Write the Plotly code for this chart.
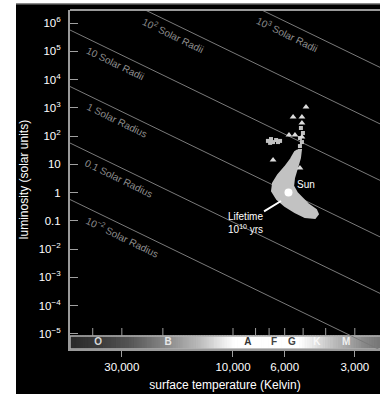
import numpy as np
import plotly.graph_objects as go

# ---------------- data ----------------
# constant-radius reference lines (solar radii)
radius_values = [0.01, 0.1, 1, 10, 100, 1000]
radius_labels = ["10<sup>−2</sup> Solar Radius", "0.1 Solar Radius", "1 Solar Radius",
                 "10 Solar Radii", "10<sup>2</sup> Solar Radii", "10<sup>3</sup> Solar Radii"]
radius_label_temps = [30550, 31800, 32400, 33000, 18600, 6040]

# main-sequence star cloud outline (temperature K, luminosity L_sun)
ms_outline_temp = [5260, 5110, 5160, 5310, 5470, 5520, 5310, 5060, 4770, 4400, 4320, 4450,
                   4910, 5420, 5980, 6470, 6800, 6730, 6410, 5980, 5640, 5420, 5260]
ms_outline_lum = [31.9, 31.9, 16.6, 7.36, 3.26, 1.70, 0.96, 0.64, 0.39, 0.24, 0.173, 0.125,
                  0.136, 0.204, 0.333, 0.589, 1.13, 2.17, 4.16, 8.0, 15.3, 27.2, 31.9]

# scattered stars above the dense band
dot_temp = [5160, 5060, 5160, 5010, 5110, 7080, 6870, 6730, 6530, 6410, 6930, 6280]
dot_lum = [44, 61, 85, 128, 192, 67, 78, 61, 72, 61, 57, 67]

# giant stars (triangles)
giant_temp = [4860, 5520, 5060, 5060, 5750, 5420, 5060, 6730, 5160]
giant_lum = [1060, 471, 471, 288, 108, 108, 92, 14, 7.4]

sun_temp, sun_lum = 5778, 1.0
lifetime_temp, lifetime_lum = 6220, 0.5

# axes
y_tick_vals = [1e6, 1e5, 1e4, 1e3, 1e2, 10, 1, 0.1, 1e-2, 1e-3, 1e-4, 1e-5]
y_tick_text = ["10<sup>6</sup>", "10<sup>5</sup>", "10<sup>4</sup>", "10<sup>3</sup>",
               "10<sup>2</sup>", "10", "1", "0.1", "10<sup>−2</sup>", "10<sup>−3</sup>",
               "10<sup>−4</sup>", "10<sup>−5</sup>"]
x_tick_vals = [30000, 10000, 6000, 3000]
x_tick_text = ["30,000", "10,000", "6,000", "3,000"]
x_minor_ticks = [40000, 30000, 20000, 10000, 8000, 7000, 6000, 5000, 4000, 3000]

# spectral class bar
spec_letters = ["O", "B", "A", "F", "G", "K", "M"]
spec_temps = [37900, 19000, 8630, 6670, 5590, 4360, 3270]
spec_letter_colors = ["#d8d8d8", "#e8e8e8", "#333333", "#444444", "#444444", "#f8f8f8", "#f0f0f0"]
bar_stop_temps = [49500, 37900, 27700, 19400, 13900, 10800, 9800, 5150, 4670, 4360, 3650, 3270, 2710, 2340]
bar_stop_gray = [42, 58, 85, 136, 187, 238, 255, 255, 238, 224, 187, 170, 136, 119]

# ---------------- figure ----------------
X_RANGE = [4.6996, 3.369]      # log10 T, reversed
Y_RANGE = [-5.54, 6.46]        # log10 L
T_SUN = 5778.0
LINE_GRAY = "#7a7a7a"
WHITE = "#ffffff"
FONT = "Liberation Sans"
PLOT_H = 339.0
PLOT_W = 310.0
BAR_H_PX = 13.0
BAR_TOP = BAR_H_PX / PLOT_H
# luminosity at the vertical middle of the spectral bar (pixel -> axis value)
bar_mid_lum = 10 ** (Y_RANGE[0] + (Y_RANGE[1] - Y_RANGE[0]) * (BAR_TOP / 2))

fig = go.Figure()

# radius lines L = R^2 (T/Tsun)^4
t_line = np.array([10 ** X_RANGE[0], 10 ** X_RANGE[1]])
for r in radius_values:
    fig.add_trace(go.Scatter(x=t_line, y=r ** 2 * (t_line / T_SUN) ** 4, mode="lines",
                             line=dict(color=LINE_GRAY, width=1), hoverinfo="skip"))

# main sequence cloud
fig.add_trace(go.Scatter(x=ms_outline_temp, y=ms_outline_lum, mode="lines", fill="toself",
                         fillcolor="#c2c2c2", line=dict(color="#c2c2c2", width=2)))
fig.add_trace(go.Scatter(x=dot_temp, y=dot_lum, mode="markers",
                         marker=dict(color="#c2c2c2", size=4, symbol="square")))
fig.add_trace(go.Scatter(x=giant_temp, y=giant_lum, mode="markers",
                         marker=dict(color="#dcdcdc", size=6, symbol="triangle-up")))
fig.add_trace(go.Scatter(x=[sun_temp], y=[sun_lum], mode="markers",
                         marker=dict(color=WHITE, size=8)))

shapes = []
# white margin and top line
shapes.append(dict(type="rect", xref="paper", yref="paper", x0=-0.3, x1=-54 / PLOT_W, y0=-0.2, y1=1.1,
                   fillcolor=WHITE, line=dict(width=0), layer="above"))
shapes.append(dict(type="rect", xref="paper", yref="paper", x0=-54 / PLOT_W, x1=1.01,
                   y0=1 + 6.5 / PLOT_H, y1=1.1, fillcolor=WHITE, line=dict(width=0), layer="above"))
shapes.append(dict(type="line", xref="paper", yref="paper", x0=-54 / PLOT_W, x1=1.01,
                   y0=1 + 6.2 / PLOT_H, y1=1 + 6.2 / PLOT_H,
                   line=dict(color="#8a8a8a", width=1.5), layer="above"))
# top frame
shapes.append(dict(type="line", xref="paper", yref="paper", x0=0, x1=1, y0=1, y1=1,
                   line=dict(color="#9a9a9a", width=2), layer="above"))

# spectral bar gradient (drawn below the traces so the letters sit on top)
lg_stops = np.log10(bar_stop_temps)[::-1]
gray_stops = np.array(bar_stop_gray, dtype=float)[::-1]
edges = np.linspace(X_RANGE[0], X_RANGE[1], 121)
for a, b in zip(edges[:-1], edges[1:]):
    g = int(round(np.interp((a + b) / 2, lg_stops, gray_stops)))
    col = f"rgb({g},{g},{g})"
    shapes.append(dict(type="rect", xref="x", yref="paper", x0=10 ** a, x1=10 ** b, y0=0, y1=BAR_TOP,
                       fillcolor=col, line=dict(color=col, width=1.2), layer="below"))
shapes.append(dict(type="rect", xref="paper", yref="paper", x0=0, x1=1.01, y0=0, y1=BAR_TOP,
                   line=dict(color="#b0b0b0", width=1.5), layer="below"))
for t in x_minor_ticks:
    shapes.append(dict(type="line", xref="x", yref="paper", x0=t, x1=t, y0=BAR_TOP,
                       y1=BAR_TOP + 8 / PLOT_H, line=dict(color="#a0a0a0", width=1), layer="above"))

# spectral class letters
fig.add_trace(go.Scatter(x=spec_temps, y=[bar_mid_lum] * len(spec_temps), mode="text",
                         text=[f"<b>{s}</b>" for s in spec_letters], textposition="middle center",
                         textfont=dict(family=FONT, size=10, color=spec_letter_colors),
                         cliponaxis=False, hoverinfo="skip"))

annotations = []
for r, lab, t in zip(radius_values, radius_labels, radius_label_temps):
    annotations.append(dict(x=np.log10(t), y=np.log10(r ** 2 * (t / T_SUN) ** 4), text=lab,
                            showarrow=False, textangle=26, yshift=-13, xshift=3,
                            font=dict(family=FONT, size=10, color="#8c8c8c")))
annotations.append(dict(x=np.log10(sun_temp), y=np.log10(sun_lum), text="Sun", showarrow=False,
                        xshift=18, yshift=8, font=dict(family=FONT, size=10, color=WHITE)))
annotations.append(dict(x=np.log10(lifetime_temp), y=np.log10(lifetime_lum),
                        text="Lifetime<br>10<sup>10</sup> yrs", showarrow=True, arrowhead=0,
                        arrowcolor=WHITE, arrowwidth=2, ax=-36, ay=22, standoff=0,
                        font=dict(family=FONT, size=10, color=WHITE)))

fig.update_layout(
    width=380, height=394,
    margin=dict(l=70, r=0, t=10, b=45, autoexpand=False),
    paper_bgcolor="#000000", plot_bgcolor="#000000",
    showlegend=False,
    shapes=shapes, annotations=annotations,
    font=dict(family=FONT, color=WHITE, size=11),
    xaxis=dict(type="log", range=X_RANGE, tickvals=x_tick_vals, ticktext=x_tick_text,
               ticks="outside", ticklen=6, tickcolor="#a0a0a0", showgrid=False, zeroline=False,
               showline=True, linecolor="#9a9a9a", linewidth=2,
               tickfont=dict(family=FONT, size=11.5, color=WHITE),
               title=dict(text="surface temperature (Kelvin)", standoff=9,
                          font=dict(family=FONT, size=12, color=WHITE))),
    yaxis=dict(type="log", range=Y_RANGE, tickvals=y_tick_vals, ticktext=y_tick_text,
               ticks="inside", ticklen=8, tickcolor="#a0a0a0", showgrid=False, zeroline=False,
               showline=True, linecolor="#9a9a9a", linewidth=2, ticklabelstandoff=5,
               tickfont=dict(family=FONT, size=11.5, color=WHITE),
               title=dict(text="luminosity (solar units)", standoff=8,
                          font=dict(family=FONT, size=12, color=WHITE))),
)

fig.write_html("out.html", config={"displayModeBar": False},
               post_script="document.body.style.margin='0';document.body.style.overflow='hidden';")
